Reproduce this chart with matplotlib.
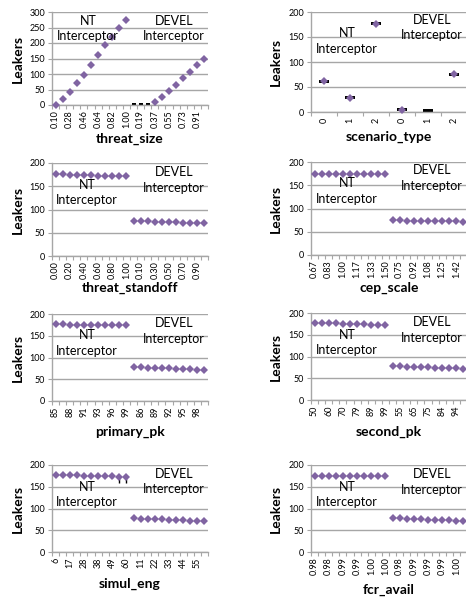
import numpy as np
import matplotlib
matplotlib.use("Agg")
import matplotlib.pyplot as plt

plt.rcParams['font.family'] = ['Lato', 'DejaVu Sans']

PURPLE = '#8064A2'
GRID = '#a6a6a6'

# ---------------- data ----------------
threat_size_labels = ["0.10", "0.19", "0.28", "0.37", "0.46", "0.55", "0.64", "0.73", "0.82", "0.91", "1.00"]
threat_size_nt = [0, 19, 43, 70, 98, 129, 162, 192, 220, 248, 273]
threat_size_devel = [3, 3, 3, 10, 26, 45, 65, 86, 108, 128, 148]
threat_size_devel_shown = [False, False, False, True, True, True, True, True, True, True, True]

scenario_type_labels = ["0", "1", "2"]
scenario_type_nt = [62, 29, 177]
scenario_type_devel = [5, 3, 76]
scenario_type_devel_shown = [True, False, True]

threat_standoff_labels = ["0.00", "0.10", "0.20", "0.30", "0.40", "0.50", "0.60", "0.70", "0.80", "0.90", "1.00"]
threat_standoff_nt = [176, 175.5, 175, 174.5, 174, 173.5, 173, 172.5, 172, 172, 171.5]
threat_standoff_devel = [75.5, 75, 74.5, 74, 73.5, 73, 72.5, 72, 71.5, 71, 70.5]

cep_scale_labels = ["0.67", "0.75", "0.83", "0.92", "1.00", "1.08", "1.17", "1.25", "1.33", "1.42", "1.50"]
cep_scale_nt = [174, 174, 174, 174, 174, 174, 174, 174, 174, 174, 174]
cep_scale_devel = [74.5, 74.2, 74, 73.8, 73.5, 73.3, 73, 72.8, 72.5, 72.3, 72]

primary_pk_labels = ["85", "86", "88", "89", "91", "92", "93", "95", "96", "98", "99"]
primary_pk_nt = [176, 176, 175.8, 175.6, 175.5, 175.3, 175.2, 175, 174.9, 174.8, 174.6]
primary_pk_devel = [78.5, 77.8, 77, 76.3, 75.6, 75, 74.2, 73.5, 72.7, 72, 71]

second_pk_labels = ["50", "55", "60", "65", "70", "75", "79", "84", "89", "94", "99"]
second_pk_nt = [177.5, 177, 176.5, 176, 175.5, 175, 174.5, 174, 173, 172.5, 171.5]
second_pk_devel = [77.7, 77.2, 76.6, 76, 75.5, 75, 74.4, 73.9, 73.4, 72.8, 72.3]

simul_eng_labels = ["6", "11", "17", "22", "28", "33", "38", "44", "49", "55", "60"]
simul_eng_nt = [177, 176.7, 176.3, 176, 175.5, 175, 174.6, 174.2, 173.8, 173.4, 173]
simul_eng_devel = [77.5, 77, 76.4, 75.7, 75, 74.3, 73.6, 73, 72.3, 71.6, 70.8]
simul_eng_nt_err_low = [0, 0, 0, 0, 0, 0, 0, 0, 4, 14, 14]

fcr_avail_labels = ["0.98", "0.98", "0.98", "0.99", "0.99", "0.99", "0.99", "0.99", "1.00", "1.00", "1.00"]
fcr_avail_nt = [174.6, 174.6, 174.6, 174.6, 174.6, 174.6, 174.6, 174.6, 174.6, 174.6, 174.6]
fcr_avail_devel = [77.7, 77.1, 76.5, 75.9, 75.3, 74.6, 74, 73.4, 72.8, 72.2, 71.5]

panels = [
    dict(name='threat_size', labels=threat_size_labels, nt=threat_size_nt, devel=threat_size_devel,
         devel_shown=threat_size_devel_shown, ymax=300, caps=1.3, err=0.5),
    dict(name='scenario_type', labels=scenario_type_labels, nt=scenario_type_nt, devel=scenario_type_devel,
         devel_shown=scenario_type_devel_shown, ymax=200, caps=3.6, err=1.0),
    dict(name='threat_standoff', labels=threat_standoff_labels, nt=threat_standoff_nt, devel=threat_standoff_devel, ymax=200),
    dict(name='cep_scale', labels=cep_scale_labels, nt=cep_scale_nt, devel=cep_scale_devel, ymax=200),
    dict(name='primary_pk', labels=primary_pk_labels, nt=primary_pk_nt, devel=primary_pk_devel, ymax=200),
    dict(name='second_pk', labels=second_pk_labels, nt=second_pk_nt, devel=second_pk_devel, ymax=200),
    dict(name='simul_eng', labels=simul_eng_labels, nt=simul_eng_nt, devel=simul_eng_devel, ymax=200,
         nt_err_low=simul_eng_nt_err_low),
    dict(name='fcr_avail', labels=fcr_avail_labels, nt=fcr_avail_nt, devel=fcr_avail_devel, ymax=200),
]

# ---------------- layout (pixels) ----------------
W, H = 466, 597
layout = [
    dict(box=(52, 12, 208, 105), ylab_x=18, xlab_y=139, nt_txt=(88, 28.5), dev_txt=(174, 28.5)),
    dict(box=(311, 12, 467, 112), ylab_x=276, xlab_y=137, nt_txt=(347, 41), dev_txt=(432, 27.5)),
    dict(box=(52, 163, 208, 256), ylab_x=18, xlab_y=288, nt_txt=(87, 192.5), dev_txt=(174, 180)),
    dict(box=(311, 162, 467, 255), ylab_x=276, xlab_y=288, nt_txt=(347, 191), dev_txt=(432, 178)),
    dict(box=(52, 314, 208, 401), ylab_x=18, xlab_y=432, nt_txt=(87, 343), dev_txt=(174, 331)),
    dict(box=(311, 313, 467, 400), ylab_x=276, xlab_y=432, nt_txt=(347, 342.5), dev_txt=(432, 330)),
    dict(box=(52, 465, 208, 552), ylab_x=18, xlab_y=584, nt_txt=(87, 494.5), dev_txt=(174, 481.5)),
    dict(box=(311, 465, 467, 552), ylab_x=276, xlab_y=590, nt_txt=(347, 494.5), dev_txt=(432, 482)),
]

fig = plt.figure(figsize=(W / 100, H / 100), dpi=100)

for p, L in zip(panels, layout):
    l, t, r, b = L['box']
    ax = fig.add_axes([l / W, 1 - b / H, (r - l) / W, (b - t) / H])
    n = len(p['labels'])
    x = np.arange(2 * n)
    y = np.array(list(p['nt']) + list(p['devel']), dtype=float)
    shown = np.array([True] * n + list(p.get('devel_shown', [True] * n)))
    cats = list(p['labels']) + list(p['labels'])

    if 'caps' in p:
        ax.errorbar(x, y, yerr=p['err'], fmt='none', ecolor='black', elinewidth=1,
                    capsize=p['caps'], capthick=1.4, zorder=2, clip_on=False)
    if 'nt_err_low' in p:
        lo = np.array(list(p['nt_err_low']) + [0] * n, dtype=float)
        ax.errorbar(x, y, yerr=[lo, np.zeros_like(lo)], fmt='none', ecolor='black',
                    elinewidth=1, capsize=0, zorder=2)
    ax.plot(x[shown], y[shown], linestyle='none', marker='D', markersize=4.2,
            color=PURPLE, markeredgewidth=0, zorder=3, clip_on=False)

    ax.set_xlim(-0.5, 2 * n - 0.5)
    ax.set_ylim(0, p['ymax'])
    ax.set_yticks(np.arange(0, p['ymax'] + 1, 50))
    step = 2 if n > 3 else 1
    ax.set_xticks(x[::step])
    ax.set_xticklabels(cats[::step])
    ax.set_xticks(np.arange(-0.5, 2 * n, 1.0), minor=True)
    ax.tick_params(axis='x', which='major', length=0, labelsize=6.5, labelrotation=90, pad=4)
    ax.tick_params(axis='x', which='minor', length=3, color=GRID, width=0.8)
    ax.tick_params(axis='y', length=3, color=GRID, width=0.8, labelsize=6.5, pad=2)
    ax.grid(axis='y', color=GRID, linewidth=1.0)
    ax.set_axisbelow(True)
    for s in ['top', 'right']:
        ax.spines[s].set_visible(False)
    for s in ['left', 'bottom']:
        ax.spines[s].set_color(GRID)
        ax.spines[s].set_linewidth(1.0)

    ax.set_ylabel('Leakers', fontsize=10, fontweight='bold')
    ax.yaxis.set_label_coords(L['ylab_x'] / W, 1 - (t + b) / 2 / H, transform=fig.transFigure)
    ax.yaxis.label.set_va('center')
    ax.set_xlabel(p['name'], fontsize=10, fontweight='bold')
    ax.xaxis.set_label_coords((l + 78) / W, 1 - L['xlab_y'] / H, transform=fig.transFigure)
    ax.xaxis.label.set_va('center')

    fig.text(L['nt_txt'][0] / W, 1 - L['nt_txt'][1] / H, 'NT\nInterceptor', ha='center', va='center',
             multialignment='center', fontsize=9, linespacing=1.35)
    fig.text(L['dev_txt'][0] / W, 1 - L['dev_txt'][1] / H, 'DEVEL\nInterceptor', ha='center', va='center',
             multialignment='center', fontsize=9, linespacing=1.35)

fig.savefig('out.png', dpi=100)
